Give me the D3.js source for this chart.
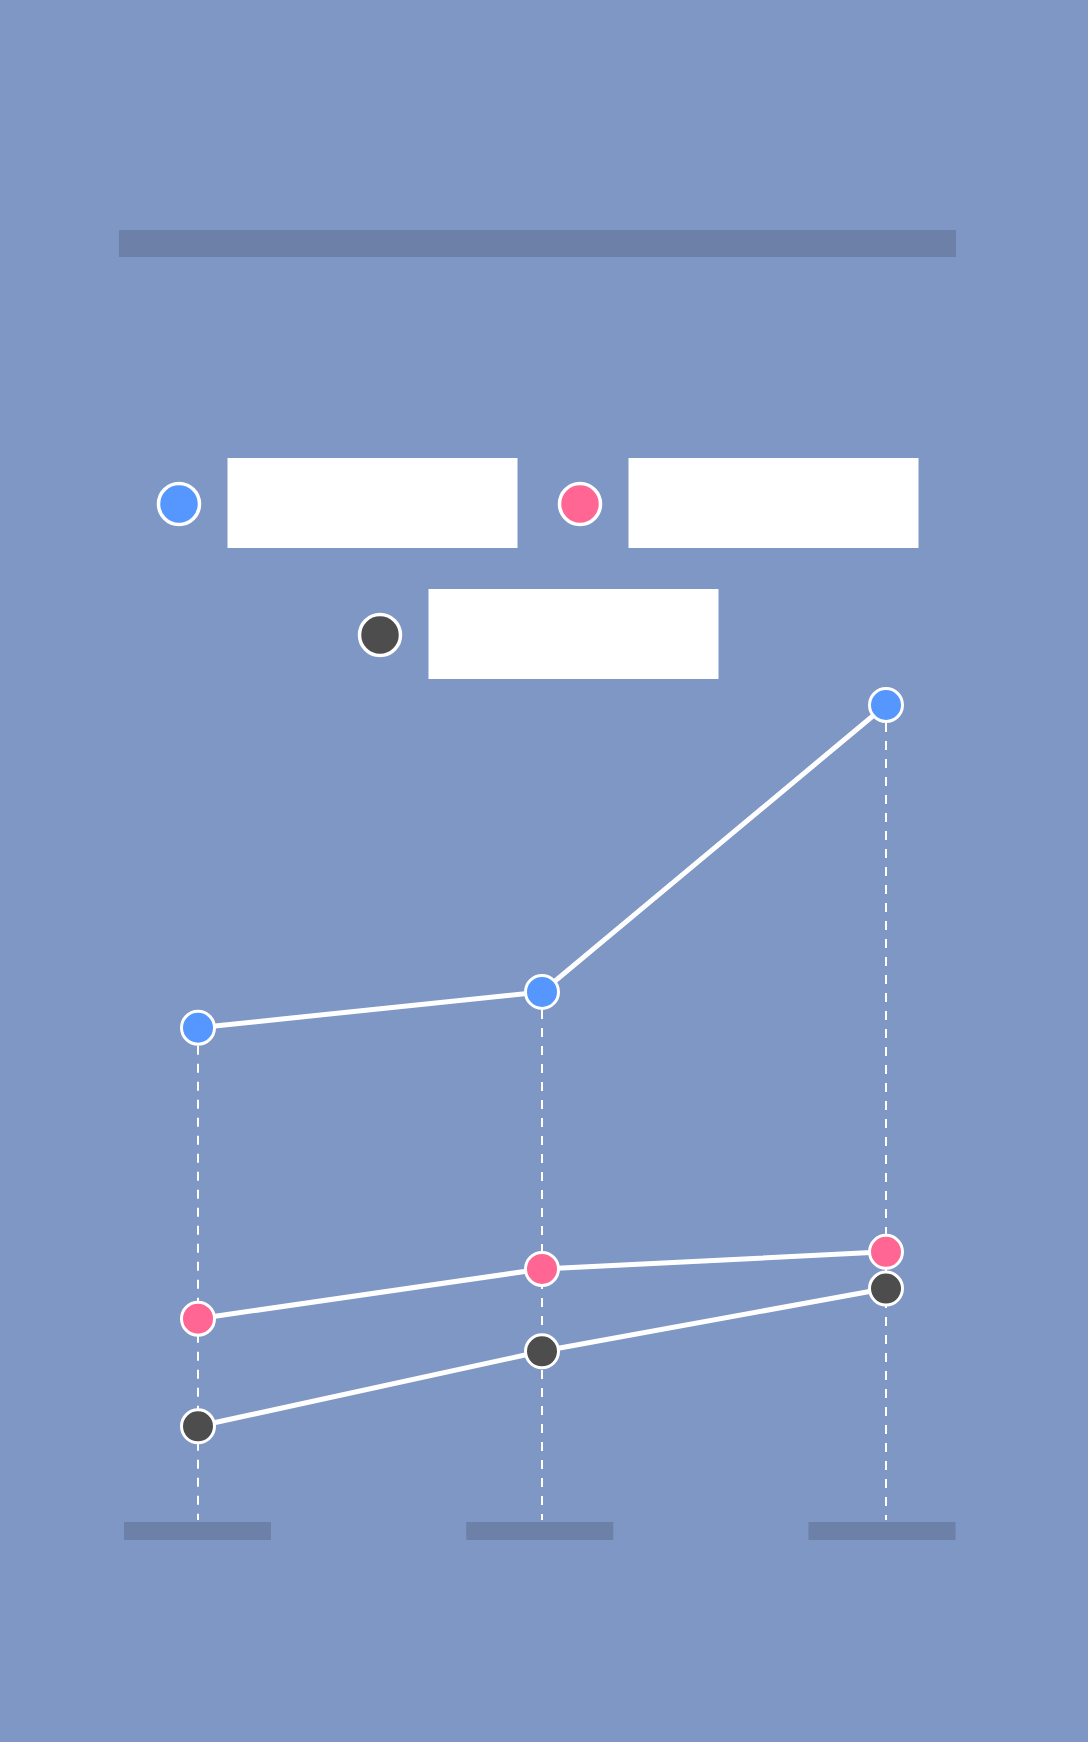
<!DOCTYPE html>
<html>
<head>
<meta charset="utf-8">
<script src="https://cdn.jsdelivr.net/npm/d3@7"></script>
<style>
  html, body { margin: 0; padding: 0; background: #7f97c4; }
  svg { display: block; }
</style>
</head>
<body>
<svg id="chart"></svg>
<script>
// chart data
const categories = ["A", "B", "C"];
const seriesNames = ["Series 1", "Series 2", "Series 3"];
const seriesColors = ["#5596ff", "#ff6694", "#4d4d4d"];
const blueValues = [60.4, 64.8, 100];
const pinkValues = [24.7, 30.8, 32.9];
const darkValues = [11.5, 20.7, 28.4];

const width = 1088;
const height = 1742;
const bg = "#7f97c4";
const placeholder = "#6c80a8";

const svg = d3.select("#chart")
  .attr("width", width)
  .attr("height", height);

svg.append("rect")
  .attr("width", width)
  .attr("height", height)
  .attr("fill", bg);

// title (text hidden behind bar, as in reference)
svg.append("rect")
  .attr("x", 119).attr("y", 230)
  .attr("width", 837).attr("height", 27)
  .attr("fill", placeholder);

// legend
const legendPos = [[179, 504], [580, 504], [380, 635]];
const legend = svg.append("g");
seriesNames.forEach((name, i) => {
  const [lx, ly] = legendPos[i];
  legend.append("circle")
    .attr("cx", lx).attr("cy", ly).attr("r", 20.5)
    .attr("fill", seriesColors[i])
    .attr("stroke", "#fff").attr("stroke-width", 3.5);
  legend.append("rect")
    .attr("x", lx + 48.5).attr("y", ly - 46)
    .attr("width", 290).attr("height", 90)
    .attr("fill", "#fff");
});

// scales
const x = d3.scalePoint()
  .domain(categories)
  .range([198, 886]);

const y = d3.scaleLinear()
  .domain([0, 100])
  .range([1520, 705]);

const series = [blueValues, pinkValues, darkValues];

// drop lines from highest point
const g = svg.append("g");
categories.forEach((c, i) => {
  const top = d3.max(series, s => s[i]);
  g.append("line")
    .attr("x1", x(c)).attr("x2", x(c))
    .attr("y1", y(top)).attr("y2", y(0))
    .attr("stroke", "#fff")
    .attr("stroke-width", 2)
    .attr("stroke-dasharray", "9,9");
});

// x axis label placeholders
const xLabel = x.copy().range([197.5, 882]);
const xAxis = svg.append("g");
categories.forEach(c => {
  xAxis.append("rect")
    .attr("x", xLabel(c) - 73.5).attr("y", 1522)
    .attr("width", 147).attr("height", 18)
    .attr("fill", placeholder);
});

const line = d3.line()
  .x((d, i) => x(categories[i]))
  .y(d => y(d));

series.forEach((s, k) => {
  g.append("path")
    .datum(s)
    .attr("d", line)
    .attr("fill", "none")
    .attr("stroke", "#fff")
    .attr("stroke-width", 5);
});

series.forEach((s, k) => {
  g.selectAll(".pt" + k)
    .data(s)
    .join("circle")
    .attr("cx", (d, i) => x(categories[i]))
    .attr("cy", d => y(d))
    .attr("r", 16.5)
    .attr("fill", seriesColors[k])
    .attr("stroke", "#fff")
    .attr("stroke-width", 3);
});
</script>
</body>
</html>
